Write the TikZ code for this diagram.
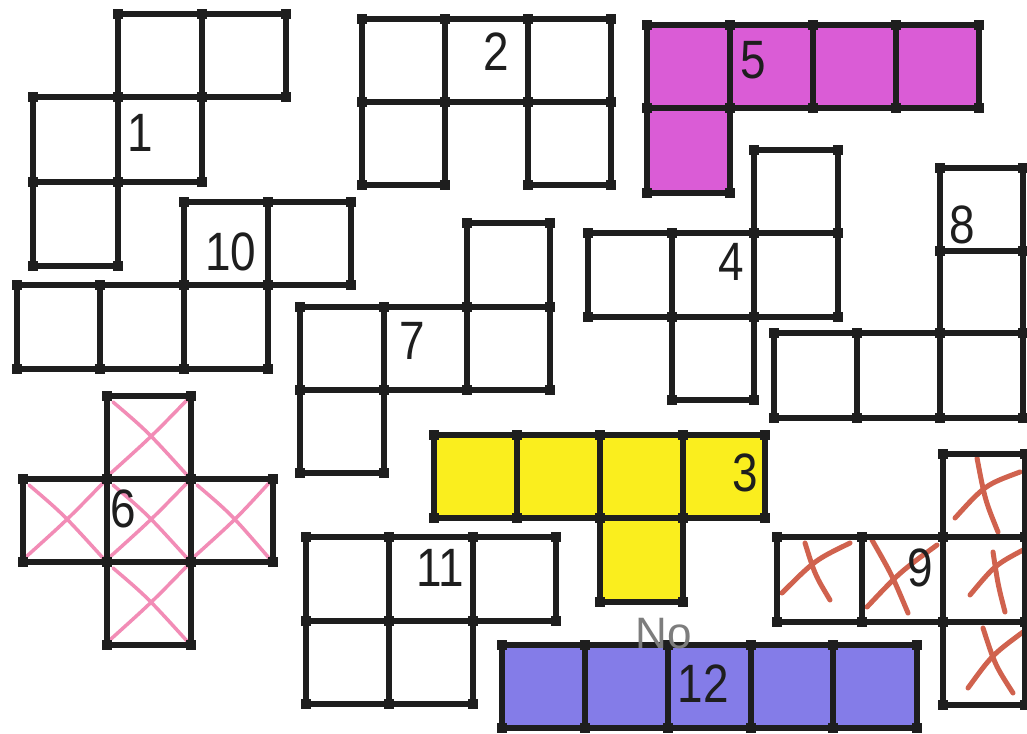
\documentclass[tikz,border=0pt]{standalone}
\usepackage{fontspec}
\setmainfont{Liberation Sans}
\definecolor{magentafill}{RGB}{218,92,214}
\definecolor{yellowfill}{RGB}{250,238,30}
\definecolor{bluefill}{RGB}{132,124,232}
\definecolor{pinkx}{RGB}{242,140,182}
\definecolor{redx}{RGB}{208,98,78}
\definecolor{gridblack}{RGB}{30,30,30}
\definecolor{pencil}{RGB}{125,125,125}
\tikzset{
  gridline/.style={draw=gridblack, line width=6pt},
  pinkstroke/.style={draw=pinkx, line width=3.5pt, line cap=round},
  redstroke/.style={draw=redx, line width=5pt, line cap=round},
  numlabel/.style={font=\fontsize{54}{54}\selectfont, text=gridblack, inner sep=0pt, xscale=0.85},
}
\newcommand\cellbox[4]{%
  \draw[gridline] (#1,#2) rectangle (#3,#4);
  \foreach \px/\py in {#1/#2,#3/#2,#1/#4,#3/#4}{\fill[gridblack] (\px-5,\py-5) rectangle (\px+5,\py+5);}%
}
\newcommand\cellfill[5]{\fill[#5] (#1,#2) rectangle (#3,#4);}
\newcommand\cellx[4]{%
  \draw[pinkstroke] (#1+6,#2+6) .. controls (#1+40,#2+35) .. (#3-4,#4-4);
  \draw[pinkstroke] (#1+4,#4-6) .. controls (#1+45,#2+40) .. (#3-4,#2+4);
}
\begin{document}
\begin{tikzpicture}[x=1pt,y=-1pt]
\fill[white] (0,0) rectangle (1027,733);
\useasboundingbox (0,0) rectangle (1027,733);

% ---- fills ----
% shape 5 (magenta)
\cellfill{647}{25}{979}{108}{magentafill}
\cellfill{647}{108}{730}{193}{magentafill}
% shape 3 (yellow)
\cellfill{434}{435}{765}{518}{yellowfill}
\cellfill{600}{518}{683}{602}{yellowfill}
% shape 12 (blue)
\cellfill{502}{645}{917}{728}{bluefill}

% ---- pink crosses (shape 6) ----
\cellx{107}{396}{191}{479}
\cellx{23}{479}{107}{562}
\cellx{107}{479}{191}{562}
\cellx{191}{479}{273}{562}
\cellx{107}{562}{191}{645}

% ---- red crosses (shape 9) ----
\draw[redstroke] (977,458) .. controls (985,500) .. (998,532);
\draw[redstroke] (955,518) .. controls (985,485) .. (1020,472);
\draw[redstroke] (993,552) .. controls (998,585) .. (1005,612);
\draw[redstroke] (970,595) .. controls (995,565) .. (1023,550);
\draw[redstroke] (983,628) .. controls (995,665) .. (1013,693);
\draw[redstroke] (968,688) .. controls (992,655) .. (1023,632);
\draw[redstroke] (805,543) .. controls (815,575) .. (830,600);
\draw[redstroke] (782,593) .. controls (815,560) .. (850,543);
\draw[redstroke] (872,540) .. controls (892,575) .. (908,613);
\draw[redstroke] (867,607) .. controls (900,572) .. (937,545);

% ---- shape 1 ----
\cellbox{118}{14}{202}{97}
\cellbox{202}{14}{286}{97}
\cellbox{33}{97}{118}{182}
\cellbox{118}{97}{202}{182}
\cellbox{33}{182}{118}{266}
% ---- shape 2 ----
\cellbox{362}{19}{445}{102}
\cellbox{445}{19}{528}{102}
\cellbox{528}{19}{611}{102}
\cellbox{362}{102}{445}{185}
\cellbox{528}{102}{611}{185}
% ---- shape 5 ----
\cellbox{647}{25}{730}{108}
\cellbox{730}{25}{813}{108}
\cellbox{813}{25}{896}{108}
\cellbox{896}{25}{979}{108}
\cellbox{647}{108}{730}{193}
% ---- shape 10 ----
\cellbox{184}{202}{268}{285}
\cellbox{268}{202}{351}{285}
\cellbox{17}{285}{100}{369}
\cellbox{100}{285}{184}{369}
\cellbox{184}{285}{268}{369}
% ---- shape 7 ----
\cellbox{467}{223}{550}{307}
\cellbox{300}{307}{384}{390}
\cellbox{384}{307}{467}{390}
\cellbox{467}{307}{550}{390}
\cellbox{300}{390}{384}{473}
% ---- shape 4 ----
\cellbox{754}{150}{838}{233}
\cellbox{588}{233}{672}{317}
\cellbox{672}{233}{754}{317}
\cellbox{754}{233}{838}{317}
\cellbox{672}{317}{754}{400}
% ---- shape 8 ----
\cellbox{940}{168}{1023}{251}
\cellbox{940}{251}{1023}{333}
\cellbox{774}{333}{857}{418}
\cellbox{857}{333}{940}{418}
\cellbox{940}{333}{1023}{418}
% ---- shape 6 ----
\cellbox{107}{396}{191}{479}
\cellbox{23}{479}{107}{562}
\cellbox{107}{479}{191}{562}
\cellbox{191}{479}{273}{562}
\cellbox{107}{562}{191}{645}
% ---- shape 3 ----
\cellbox{434}{435}{517}{518}
\cellbox{517}{435}{600}{518}
\cellbox{600}{435}{683}{518}
\cellbox{683}{435}{765}{518}
\cellbox{600}{518}{683}{602}
% ---- shape 9 ----
\cellbox{943}{454}{1025}{537}
\cellbox{943}{537}{1025}{622}
\cellbox{943}{622}{1025}{705}
\cellbox{777}{537}{862}{622}
\cellbox{862}{537}{943}{622}
% ---- shape 11 ----
\cellbox{306}{537}{389}{621}
\cellbox{389}{537}{473}{621}
\cellbox{473}{537}{556}{621}
\cellbox{306}{621}{389}{704}
\cellbox{389}{621}{473}{704}
% ---- shape 12 ----
\cellbox{502}{645}{585}{728}
\cellbox{585}{645}{668}{728}
\cellbox{668}{645}{751}{728}
\cellbox{751}{645}{833}{728}
\cellbox{833}{645}{917}{728}

% ---- labels ----
\node[numlabel] (l1) at (140,133) {1};
\node[numlabel] (l2) at (496,52) {2};
\node[numlabel] (l5) at (753,60) {5};
\node[numlabel] (l10) at (231,252) {10};
\node[numlabel] (l7) at (412,341) {7};
\node[numlabel] (l4) at (731,262) {4};
\node[numlabel] (l8) at (962,225) {8};
\node[numlabel] (l6) at (123,509) {6};
\node[numlabel] (l3) at (745,473) {3};
\node[numlabel] (l9) at (920,568) {9};
\node[numlabel] (l11) at (440,568) {11};
\node[numlabel] (l12) at (703,684) {12};
\node[font=\fontsize{44}{44}\selectfont, text=pencil, inner sep=0pt] (no) at (664,634) {No};
\end{tikzpicture}
\end{document}
